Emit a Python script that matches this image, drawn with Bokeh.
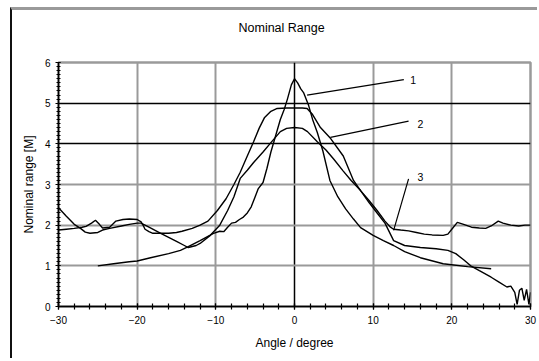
from bokeh.plotting import figure
from bokeh.models import Range1d, SingleIntervalTicker, FixedTicker, Grid, Label, LinearAxis, Title
from bokeh.embed import file_html
from bokeh.resources import INLINE

# Curve 1: narrow beam
angle_1 = [-25, -23, -21, -20, -18.3, -16, -14.5, -13.5, -12, -10.3, -9.5, -9, -8.5, -8, -7.5,
           -7, -6.5, -6, -5.5, -5.0, -4.6, -4, -3.5, -3, -2.4, -1.8, -1.3, -0.9, -0.4, 0,
           0.4, 0.8, 1.15, 1.8, 2.3, 2.9, 3.6, 4.5, 5.5, 6.5, 7.5, 8.4, 10, 11.3, 12.6, 14,
           16, 18.9, 22, 25]
range_1 = [1.0, 1.05, 1.1, 1.12, 1.2, 1.3, 1.38, 1.47, 1.62, 1.8, 1.85, 1.84, 1.95, 2.05, 2.07,
           2.14, 2.2, 2.3, 2.45, 2.7, 2.9, 3.05, 3.4, 3.8, 4.2, 4.6, 4.85, 5.1, 5.45, 5.6,
           5.5, 5.35, 5.26, 4.94, 4.6, 4.28, 3.83, 3.1, 2.7, 2.4, 2.15, 1.94, 1.75, 1.62, 1.5, 1.35,
           1.2, 1.05, 0.98, 0.93]

# Curve 2: wide flat-topped beam
angle_2 = [-30, -29, -28, -27, -26.5, -25.8, -25.3, -24.8, -24.4, -23.5, -22.7, -21.8, -21, -20,
           -19.5, -19.2, -19, -18.5, -18, -17, -16, -15, -14.3, -13, -12, -11, -9.8, -8.7, -7.7,
           -6.9, -6, -5.2, -4.5, -3.8, -3.0, -2.2, -1, 0, 1, 1.6, 2.3, 3.3, 4.6, 6.2, 7.5, 8.4,
           9.5, 10.5, 11.5, 12.6, 14, 16, 18, 19.5, 20.5, 21.5, 22.4, 23.5, 25, 26, 27, 27.5,
           28, 28.3, 28.6, 28.9, 29.2, 29.5, 29.8, 30]
range_2 = [1.88, 1.9, 1.92, 1.95, 1.97, 2.05, 2.12, 2.02, 1.93, 1.95, 2.1, 2.14, 2.15, 2.14,
           2.08, 1.98, 1.9, 1.84, 1.8, 1.8, 1.8, 1.82, 1.85, 1.92, 2.0, 2.1, 2.36, 2.65, 3.0,
           3.3, 3.7, 4.05, 4.38, 4.65, 4.8, 4.87, 4.88, 4.88, 4.88, 4.87, 4.72, 4.4, 4.13, 3.7, 3.1, 2.85,
           2.55, 2.3, 2.05, 1.62, 1.5, 1.45, 1.42, 1.38, 1.3, 1.15, 1.0, 0.88, 0.72, 0.6, 0.48, 0.5,
           0.35, 0.05, 0.4, 0.45, 0.15, 0.42, 0.05, 0.35]

# Curve 3: beam with a high side-lobe floor
angle_3 = [-30, -29, -28, -27.2, -26.6, -26, -25, -24.4, -23.5, -22, -21, -20, -19.5, -18.5, -17,
           -16, -15, -14, -13.5, -12.5, -12, -10.7, -9.5, -8.5, -7.7, -6.9, -6, -5.2, -4, -3,
           -1.8, -1, 0, 1, 1.65, 2.9, 4, 5, 6.2, 7.2, 8.4, 9.5, 10.5, 11.5, 12.2, 12.6, 13.5,
           14.5, 15.5, 16.5, 17.5, 18.9, 19.5, 20.2, 20.7, 21.5, 22.5, 23.5, 24.3, 25, 25.9,
           26.5, 27.5, 28.5, 29.3, 30]
range_3 = [2.43, 2.22, 2.02, 1.92, 1.83, 1.8, 1.82, 1.88, 1.92, 1.98, 2.02, 2.05, 2.05, 1.95, 1.8,
           1.7, 1.6, 1.5, 1.45, 1.5, 1.55, 1.75, 2.0, 2.36, 2.7, 3.15, 3.35, 3.54, 3.8, 4.03,
           4.3, 4.38, 4.4, 4.38, 4.3, 4.05, 3.85, 3.62, 3.33, 3.1, 2.85, 2.6, 2.36, 2.1, 1.95, 1.9, 1.88,
           1.86, 1.82, 1.78, 1.76, 1.75, 1.78, 1.95, 2.07, 2.02, 1.95, 1.93, 1.92, 1.98, 2.1,
           2.05, 2.0, 1.98, 2.0, 2.0]

# Curve tags with their leader lines
tag_text = ["1", "2", "3"]
tag_x = [15.1, 16.0, 16.0]
tag_y = [5.56, 4.49, 3.18]
leader_x0 = [1.6, 4.57, 12.6]
leader_y0 = [5.2, 4.16, 1.87]
leader_x1 = [13.9, 14.5, 14.5]
leader_y1 = [5.58, 4.56, 3.14]

FONT = "Liberation Sans"

p = figure(width=527, height=351, output_backend="svg", toolbar_location=None,
           x_range=Range1d(-30, 30), y_range=Range1d(0, 6),
           min_border_left=46, min_border_right=9, min_border_top=52, min_border_bottom=55,
           margin=(7, 0, 0, 10),
           styles={"border-top": "3px solid #9a9a9a", "border-left": "2px solid #111111"})

p.background_fill_color = "white"
p.border_fill_color = "white"
p.outline_line_color = "#9a9a9a"
p.outline_line_width = 2.5

# Blank spacer between the frame and the title (one tick, invisible, no label)
spacer = LinearAxis(ticker=FixedTicker(ticks=[0]), major_label_overrides={0: ""},
                    axis_line_alpha=0, major_tick_line_alpha=0, minor_tick_line_alpha=0,
                    major_tick_in=0, major_tick_out=21, minor_tick_in=0, minor_tick_out=0,
                    major_label_standoff=0)
p.add_layout(spacer, "above")

# Chart title
p.add_layout(Title(text="Nominal Range", align="left", offset=180, standoff=14,
                   text_font=FONT, text_font_size="12.5px", text_font_style="normal",
                   text_color="black"), "above")

# Grid: grey and black lines
p.grid.visible = False
p.add_layout(Grid(dimension=0, ticker=FixedTicker(ticks=[-20, -10, 10, 20]),
                  grid_line_color="#9a9a9a", grid_line_width=2))
p.add_layout(Grid(dimension=0, ticker=FixedTicker(ticks=[0]),
                  grid_line_color="black", grid_line_width=1.5))
p.add_layout(Grid(dimension=1, ticker=FixedTicker(ticks=[1, 2, 3]),
                  grid_line_color="#9a9a9a", grid_line_width=2))
p.add_layout(Grid(dimension=1, ticker=FixedTicker(ticks=[4, 5]),
                  grid_line_color="black", grid_line_width=1.5))

# Axes
xax = p.below[0]
yax = p.left[0]
xax.ticker = SingleIntervalTicker(interval=10, num_minor_ticks=5)
yax.ticker = SingleIntervalTicker(interval=1, num_minor_ticks=10)
for ax in (xax, yax):
    ax.axis_line_color = "black"
    ax.axis_line_width = 1.5
    ax.major_tick_line_color = "black"
    ax.minor_tick_line_color = "black"
    ax.major_tick_line_width = 1.2
    ax.minor_tick_line_width = 1.2
    ax.major_label_text_font = FONT
    ax.major_label_text_font_size = "10px"
    ax.major_label_text_color = "black"
    ax.axis_label_text_font = FONT
    ax.axis_label_text_font_size = "12px"
    ax.axis_label_text_font_style = "normal"
    ax.axis_label_text_color = "black"

xax.major_tick_in = 3
xax.major_tick_out = 3
xax.minor_tick_in = 3
xax.minor_tick_out = 3
xax.major_label_standoff = 6
xax.axis_label = "Angle / degree"
xax.axis_label_standoff = 9

yax.major_tick_in = 2
yax.major_tick_out = 3
yax.minor_tick_in = 2
yax.minor_tick_out = 2
yax.major_label_standoff = 5
yax.axis_label = "Nominal range [M]"
yax.axis_label_standoff = 6

# Beam curves
for xs, ys in ((angle_1, range_1), (angle_2, range_2), (angle_3, range_3)):
    p.line(xs, ys, line_color="black", line_width=1.4)

# Leaders and curve tags
p.segment(x0=leader_x0, y0=leader_y0, x1=leader_x1, y1=leader_y1,
          line_color="black", line_width=1.2)
for t, x, y in zip(tag_text, tag_x, tag_y):
    p.add_layout(Label(x=x, y=y, text=t, text_font=FONT, text_font_size="10.5px",
                       text_color="black", text_align="center", text_baseline="middle"))

open("out.html", "w").write(file_html(p, INLINE))
